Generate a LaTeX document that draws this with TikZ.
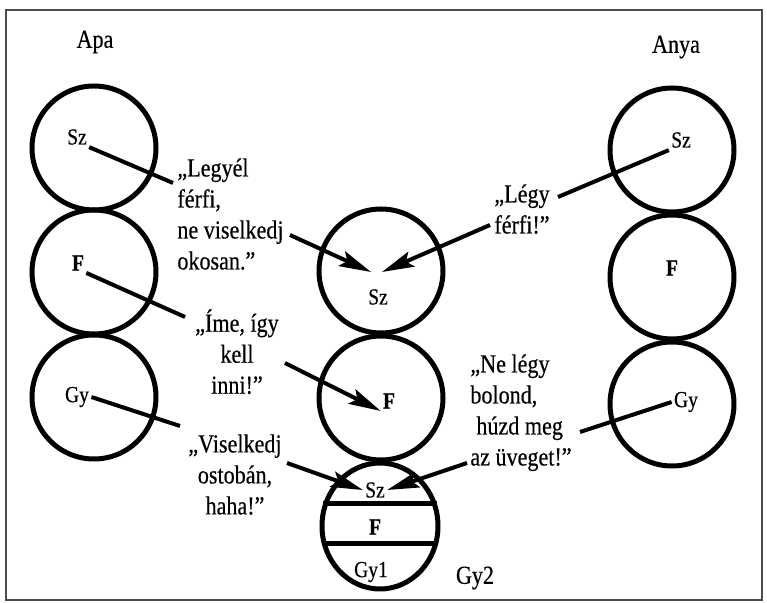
\documentclass[tikz,border=0pt]{standalone}
\usepackage{fontspec}
\setmainfont{Liberation Serif}[FakeStretch=0.85,FakeBold=0.4]
\usetikzlibrary{arrows.meta,shapes.geometric}

\begin{document}
\begin{tikzpicture}[x=0.5pt,y=-0.5pt,
    ring/.style={circle,draw,line width=2.5pt,minimum size=62pt,inner sep=0pt},
    lbl/.style={font=\fontsize{11.5}{13}\selectfont,inner sep=1pt},
    who/.style={font=\fontsize{13}{15}\selectfont,inner sep=0pt},
    said/.style={font=\fontsize{13}{15.5}\selectfont,inner sep=0pt},
    link/.style={line width=2pt},
    push/.style={line width=2pt,-{Stealth[length=16pt,width=8pt,inset=3pt]}}]
        \useasboundingbox (0,0) rectangle (767,603);
        \draw[line width=1pt,black!70] (6,10) rectangle (762,600);
        % father
        \node[who] (apa) at (95,42) {Apa};
        \node[ring] (a1) at (94,148) {};
        \node[ring] (a2) at (94,272) {};
        \node[ring] (a3) at (94,397) {};
        \node[lbl] (aSz) at (77,137) {Sz};
        \node[lbl,font=\fontsize{11.5}{13}\selectfont\bfseries] (aF) at (78,263) {F};
        \node[lbl] (aGy) at (77,397) {Gy};
        % mother
        \node[who] (anya) at (676,47) {Anya};
        \node[ring] (n1) at (672,150) {};
        \node[ring] (n2) at (672,277) {};
        \node[ring] (n3) at (672,404) {};
        \node[lbl] (nSz) at (681,140) {Sz};
        \node[lbl,font=\fontsize{11.5}{13}\selectfont\bfseries] (nF) at (672,268) {F};
        \node[lbl] (nGy) at (686,402) {Gy};
        % child
        \node[ring] (k1) at (381,271) {};
        \node[ring] (k2) at (381,398) {};
        \node[ring,ellipse,minimum width=58pt,minimum height=63pt] (k3) at (380,526) {};
        \draw[line width=2.5pt] (k3.158) -- (k3.22);
        \draw[line width=2.5pt] (k3.-163) -- (k3.-17);
        \node[lbl] (kSz) at (378,297) {Sz};
        \node[lbl,font=\fontsize{11.5}{13}\selectfont\bfseries] (kF) at (389,401) {F};
        \node[lbl] (kSz2) at (375,490) {Sz};
        \node[lbl,font=\fontsize{11.5}{13}\selectfont\bfseries] (kF2) at (375,527) {F};
        \node[lbl] (kGy1) at (371,572) {Gy1};
        \node[who] (kGy2) at (475,578) {Gy2};
        % what they say
        \node[said,anchor=north west,align=left] (legyel) at (177,158)
          {„Legyél\\férfi,\\ne viselkedj\\okosan.”};
        \node[said,anchor=north,align=center] (ime) at (237,309)
          {„Íme, így\\kell\\inni!”};
        \node[said,anchor=north,align=center] (ostoban) at (235,434)
          {„Viselkedj\\ostobán,\\haha!”};
        \node[said,anchor=north,align=center] (legy) at (522,184)
          {„Légy\\férfi!”};
        \node[said,anchor=north west,align=left] (bolond) at (470,354)
          {„Ne légy\\bolond,\\\hspace{3pt}húzd meg\\az üveget!”};
        % line ends
        \coordinate (q1) at (173,183);
        \coordinate (q2) at (290,235);
        \coordinate (q3) at (185,317);
        \coordinate (q4) at (285,363);
        \coordinate (q5) at (180,426);
        \coordinate (q6) at (287,463);
        \coordinate (q7) at (558,197);
        \coordinate (q8) at (490,225);
        \coordinate (q9) at (580,432);
        \coordinate (q10) at (467,463);
        \coordinate (t1) at (371,272);
        \coordinate (t2) at (382,272);
        \draw[link] (aSz.south east) -- (q1);
        \draw[link] (aF.south east) -- (q3);
        \draw[link] (aGy.east) -- (q5);
        \draw[link] (nSz.south west) -- (q7);
        \draw[link] (nGy.west) -- (q9);
        \draw[push] (q2) -- (t1);
        \draw[push] (q8) -- (t2);
        \draw[push] (q4) -- (kF.south west);
        \draw[push] (q6) -- (kSz2.west);
        \draw[push] (q10) -- (kSz2.east);
\end{tikzpicture}
\end{document}
